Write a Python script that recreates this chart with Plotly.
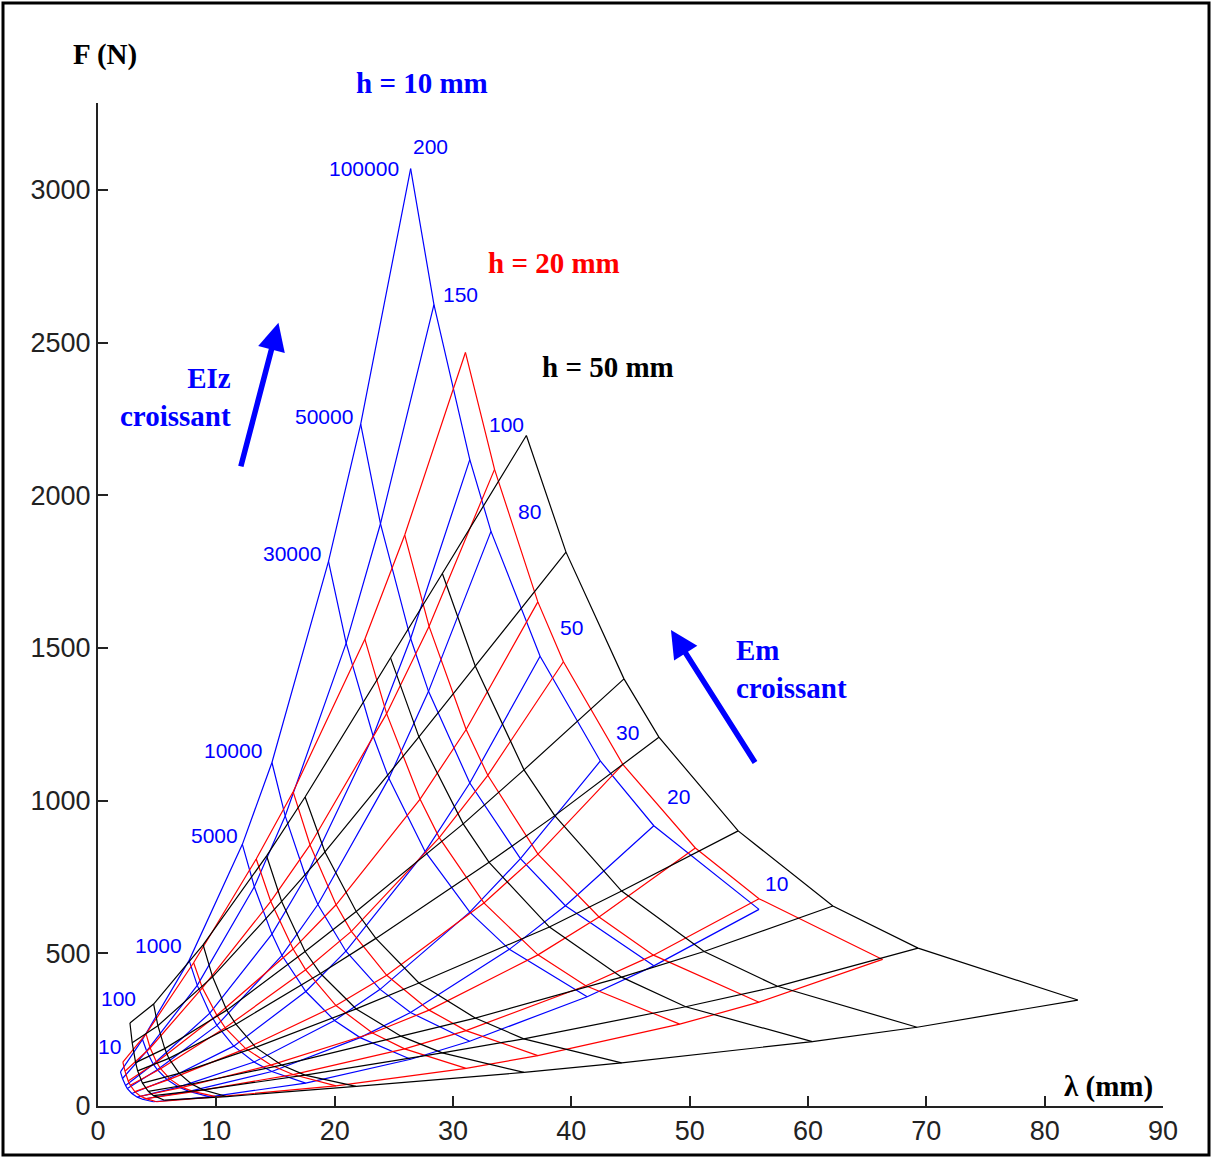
import plotly.graph_objects as go

# Grid parameters: one row per bending stiffness EIz, one column per modulus Em
EIZ_VALUES = [10, 100, 1000, 5000, 10000, 30000, 50000, 100000]
EM_VALUES = [10, 20, 30, 50, 80, 100, 150, 200]

# h = 10 mm : wavelength λ (mm) and force F (N) at each (EIz, Em) node
LAMBDA_H10 = [
    [4.67, 3.76, 3.32, 2.86, 2.48, 2.33, 2.07, 1.90],
    [9.45, 7.70, 6.80, 5.82, 5.01, 4.67, 4.11, 3.76],
    [17.55, 14.69, 13.19, 11.47, 10.05, 9.45, 8.39, 7.70],
    [26.42, 22.15, 19.99, 17.56, 15.55, 14.70, 13.21, 12.20],
    [31.41, 26.41, 23.84, 20.95, 18.58, 17.56, 15.82, 14.70],
    [41.34, 34.76, 31.42, 27.65, 24.58, 23.25, 20.97, 19.48],
    [46.97, 39.50, 35.70, 31.42, 27.93, 26.42, 23.87, 22.20],
    [55.86, 46.97, 42.45, 37.36, 33.21, 31.42, 28.39, 26.42],
]
FORCE_H10 = [
    [14, 22, 29, 41, 57, 67, 90, 112],
    [30, 48, 62, 87, 119, 137, 180, 218],
    [75, 113, 144, 196, 264, 304, 395, 477],
    [153, 224, 280, 375, 493, 563, 718, 857],
    [212, 306, 382, 507, 660, 750, 950, 1125],
    [358, 513, 635, 833, 1073, 1212, 1516, 1784],
    [459, 656, 810, 1058, 1358, 1531, 1907, 2233],
    [644, 918, 1130, 1473, 1882, 2117, 2625, 3070],
]

# h = 20 mm
LAMBDA_H20 = [
    [4.95, 4.06, 3.59, 3.11, 2.73, 2.55, 2.28, 2.10],
    [10.05, 8.08, 7.11, 6.09, 5.29, 4.95, 4.41, 4.06],
    [20.11, 16.48, 14.60, 12.48, 10.75, 10.05, 8.82, 8.08],
    [31.11, 25.91, 23.20, 20.11, 17.55, 16.49, 14.60, 13.37],
    [37.17, 31.10, 27.98, 24.40, 21.41, 20.12, 17.92, 16.49],
    [49.16, 41.22, 37.18, 32.61, 28.84, 27.22, 24.39, 22.55],
    [55.86, 46.94, 42.34, 37.18, 32.94, 31.11, 27.98, 25.92],
    [66.30, 55.86, 50.48, 44.35, 39.33, 37.17, 33.51, 31.05],
]
FORCE_H20 = [
    [14, 24, 32, 47, 68, 82, 114, 144],
    [30, 47, 61, 88, 122, 143, 190, 236],
    [66, 103, 134, 188, 256, 297, 387, 469],
    [123, 187, 239, 329, 446, 514, 670, 809],
    [165, 247, 314, 428, 572, 659, 855, 1029],
    [268, 394, 495, 665, 879, 1005, 1285, 1529],
    [340, 494, 619, 825, 1083, 1233, 1571, 1870],
    [480, 679, 845, 1119, 1455, 1651, 2085, 2468],
]

# h = 50 mm
LAMBDA_H50 = [
    [5.62, 4.70, 4.25, 3.76, 3.35, 3.18, 2.89, 2.70],
    [10.88, 8.88, 7.90, 6.86, 5.99, 5.64, 5.06, 4.70],
    [21.81, 17.49, 15.51, 13.33, 11.65, 10.88, 9.68, 8.88],
    [36.00, 29.09, 25.64, 21.82, 18.80, 17.50, 15.52, 14.25],
    [44.25, 35.98, 31.88, 27.12, 23.48, 21.82, 19.18, 17.50],
    [60.37, 49.66, 44.25, 38.15, 33.05, 30.86, 27.12, 24.73],
    [69.22, 57.42, 51.22, 44.25, 38.60, 36.00, 31.88, 29.10],
    [82.80, 69.30, 62.10, 54.10, 47.40, 44.45, 39.55, 36.20],
]
FORCE_H50 = [
    [19, 34, 48, 75, 115, 142, 207, 272],
    [31, 53, 72, 107, 156, 188, 263, 334],
    [64, 101, 134, 192, 268, 314, 423, 528],
    [110, 174, 228, 318, 434, 506, 670, 819],
    [141, 220, 288, 403, 549, 637, 832, 1012],
    [211, 325, 422, 586, 798, 924, 1209, 1467],
    [258, 392, 506, 704, 951, 1101, 1441, 1744],
    [347, 517, 655, 901, 1208, 1399, 1814, 2196],
]

X_TICKS = [0, 10, 20, 30, 40, 50, 60, 70, 80, 90]
Y_TICKS = [0, 500, 1000, 1500, 2000, 2500, 3000]

BLUE = "#0000FF"
RED = "#FF0000"
BLACK = "#000000"
SANS = "Liberation Sans, Arial, sans-serif"
SERIF = "Liberation Serif, Times New Roman, serif"


def grid_polylines(lam, force):
    """Join iso-EIz rows and iso-Em columns into one polyline with gaps."""
    xs, ys = [], []
    for i in range(len(lam)):
        xs += list(lam[i]) + [None]
        ys += list(force[i]) + [None]
    for j in range(len(lam[0])):
        xs += [lam[i][j] for i in range(len(lam))] + [None]
        ys += [force[i][j] for i in range(len(lam))] + [None]
    return xs, ys


fig = go.Figure()
for lam, force, color, name in [
    (LAMBDA_H10, FORCE_H10, BLUE, "h = 10 mm"),
    (LAMBDA_H20, FORCE_H20, RED, "h = 20 mm"),
    (LAMBDA_H50, FORCE_H50, BLACK, "h = 50 mm"),
]:
    xs, ys = grid_polylines(lam, force)
    fig.add_trace(go.Scatter(x=xs, y=ys, mode="lines", name=name,
                             line=dict(color=color, width=1.2),
                             connectgaps=False, hoverinfo="skip"))

annotations = []

# EIz labels beside the Em = 200 nodes of the h = 10 mm grid
eiz_shifts = [(3, 25), (-4, 41), (-5, 15), (-2, 9), (-8, 12), (-6, 8), (-6, 8), (-10, 0)]
for i, eiz in enumerate(EIZ_VALUES):
    dx, dy = eiz_shifts[i]
    annotations.append(dict(x=LAMBDA_H10[i][-1], y=FORCE_H10[i][-1], xref="x", yref="y",
                            text=str(eiz), showarrow=False, xanchor="right", yanchor="middle",
                            xshift=dx, yshift=dy, font=dict(family=SANS, size=21, color=BLUE)))

# Em labels beside the EIz = 100000 nodes of the h = 10 mm grid
em_shifts = [(4, 26), (11, 29), (14, 28), (18, 29), (25, 20), (17, 35), (7, 10), (0, 22)]
for j, em in enumerate(EM_VALUES):
    dx, dy = em_shifts[j]
    annotations.append(dict(x=LAMBDA_H10[-1][j], y=FORCE_H10[-1][j], xref="x", yref="y",
                            text=str(em), showarrow=False, xanchor="left", yanchor="middle",
                            xshift=dx, yshift=dy, font=dict(family=SANS, size=21, color=BLUE)))

bold = dict(family=SERIF, size=29)


def paper_text(x, y, text, color, xanchor="center", align="center"):
    return dict(x=x, y=y, xref="paper", yref="paper", text=text, showarrow=False,
                xanchor=xanchor, yanchor="middle", align=align,
                font=dict(**bold, color=color))


annotations += [
    paper_text(0.0066, 1.048, "<b>F (N)</b>", BLACK),
    paper_text(0.9484, 0.019, "<b>λ (mm)</b>", BLACK),
    paper_text(0.3042, 1.020, "<b>h = 10 mm</b>", BLUE),
    paper_text(0.4282, 0.8405, "<b>h = 20 mm</b>", RED),
    paper_text(0.4789, 0.7368, "<b>h = 50 mm</b>", BLACK),
    paper_text(0.1268, 0.7069, "<b>EIz<br>croissant</b>", BLUE, xanchor="right", align="right"),
    paper_text(0.597, 0.4357, "<b>Em<br>croissant</b>", BLUE, xanchor="left", align="left"),
    # direction arrows
    dict(x=15.25, y=2565, xref="x", yref="y", ax=-38, ay=145, text="",
         showarrow=True, arrowhead=2, arrowsize=1, arrowwidth=5.5, arrowcolor=BLUE, standoff=0),
    dict(x=48.42, y=1559, xref="x", yref="y", ax=85, ay=134, text="",
         showarrow=True, arrowhead=2, arrowsize=1, arrowwidth=5.5, arrowcolor=BLUE, standoff=0),
]

axis_common = dict(showgrid=False, zeroline=False, showline=True, linecolor="#222222",
                   linewidth=2, ticks="inside", ticklen=10, tickwidth=2, tickcolor="#222222",
                   tickfont=dict(family=SANS, size=27, color="#222222"))

fig.update_layout(
    width=1213, height=1158,
    margin=dict(l=98, r=50, t=103, b=52),
    paper_bgcolor="white", plot_bgcolor="white",
    showlegend=False,
    xaxis=dict(range=[0, 90], tickvals=X_TICKS, **axis_common),
    yaxis=dict(range=[0, 3285], tickvals=Y_TICKS, **axis_common),
    annotations=annotations,
    shapes=[dict(type="rect", xref="paper", yref="paper",
                 x0=-0.0892, x1=1.0432, y0=-0.0489, y1=1.0997,
                 line=dict(color=BLACK, width=3))],
)

fig.write_html("out.html")
